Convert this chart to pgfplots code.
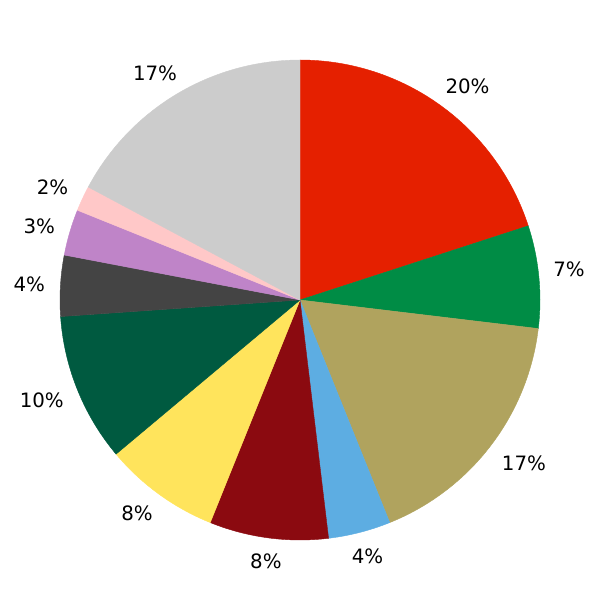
\documentclass[border=0pt]{standalone}
\usepackage{fontspec}
\setmainfont{DejaVu Sans}
\usepackage{pgfplots}
\usepackage{pgfplotstable}
\pgfplotsset{compat=1.18}

\definecolor{cA}{RGB}{229,32,0}
\definecolor{cB}{RGB}{0,140,69}
\definecolor{cC}{RGB}{176,163,94}
\definecolor{cD}{RGB}{93,173,226}
\definecolor{cE}{RGB}{139,10,16}
\definecolor{cF}{RGB}{255,228,92}
\definecolor{cG}{RGB}{0,90,64}
\definecolor{cH}{RGB}{68,68,68}
\definecolor{cI}{RGB}{191,132,200}
\definecolor{cJ}{RGB}{255,200,200}
\definecolor{cK}{RGB}{204,204,204}

% value (percent), label text, colour, label position
\pgfplotstableread{
val  lab  col lx     ly
20.0 20   cA  0.698  0.889
6.9  7    cB  1.121  0.129
17.0 17   cC  0.933  -0.679
4.2  4    cD  0.281  -1.069
8.0  8    cE  -0.142 -1.088
7.8  8    cF  -0.679 -0.889
10.0 10   cG  -1.076 -0.417
4.1  4    cH  -1.128 0.067
3.1  3    cI  -1.086 0.306
1.7  2    cJ  -1.031 0.469
17.2 17   cK  -0.604 0.944
}\piedata

\begin{document}
\begin{tikzpicture}
\begin{axis}[
  hide axis,
  x=6.096cm, y=6.096cm,
  xmin=-1.25, xmax=1.25, ymin=-1.25, ymax=1.25,
  clip=false,
]
\path (axis cs:-1.25,-1.25) rectangle (axis cs:1.25,1.25);
\def\cum{0}
\pgfplotsforeachungrouped \i in {0,...,10} {
  \pgfplotstablegetelem{\i}{val}\of\piedata \let\v=\pgfplotsretval
  \pgfplotstablegetelem{\i}{col}\of\piedata \let\c=\pgfplotsretval
  \pgfplotstablegetelem{\i}{lab}\of\piedata \let\l=\pgfplotsretval
  \pgfplotstablegetelem{\i}{lx}\of\piedata \let\px=\pgfplotsretval
  \pgfplotstablegetelem{\i}{ly}\of\piedata \let\py=\pgfplotsretval
  \pgfmathsetmacro\a{90-3.6*\cum}
  \pgfmathsetmacro\b{90-3.6*(\cum+\v)}
  \pgfmathsetmacro\cum{\cum+\v}
  \edef\cmd{\noexpand\addplot[fill=\c, draw=\c, line width=0.3pt, line join=round, domain=\b:\a, samples=80, variable=\noexpand\t] ({cos(\noexpand\t)},{sin(\noexpand\t)}) -- (axis cs:0,0) -- cycle;
    \noexpand\node[font=\noexpand\fontsize{14.3}{17}\noexpand\selectfont, anchor=center, inner sep=0pt] at (axis cs:\px,\py) {\l\noexpand\%};}
  \cmd
}
\end{axis}
\end{tikzpicture}
\end{document}
